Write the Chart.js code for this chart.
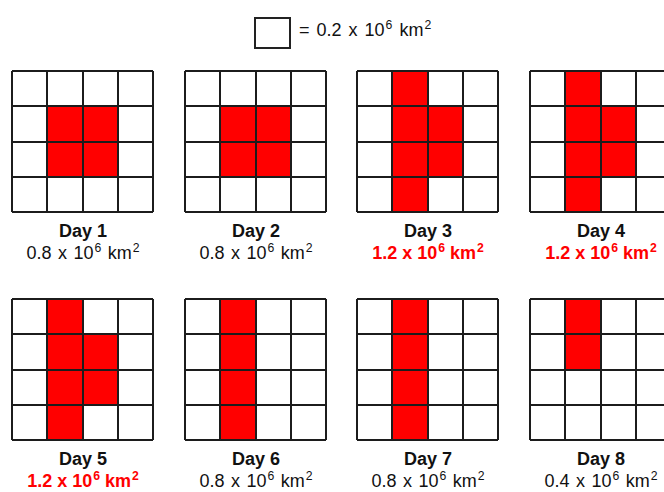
<!DOCTYPE html>
<html>
<head>
<meta charset="utf-8">
<script src="https://cdn.jsdelivr.net/npm/chart.js@4.4.1/dist/chart.umd.min.js"></script>
<style>
  body { margin: 0; background: #fff; font-family: "Liberation Sans", Arial, sans-serif; }
  #wrap { position: relative; width: 664px; height: 492px; overflow: hidden; background: #fff; }
  canvas { position: absolute; }
  .lbl { position: absolute; width: 180px; text-align: center; color: #111; white-space: nowrap; }
  .day { font-weight: bold; font-size: 18px; }
  .val { font-size: 18px; word-spacing: 1.5px; }
  .val.hi { color: #f00; font-weight: bold; word-spacing: 0; }
  sup { font-size: 68%; vertical-align: 0; position: relative; top: -0.55em; margin-left: 1px; }
  #key { position: absolute; left: 254px; top: 17px; width: 33px; height: 28px; border: 2px solid #222; }
  #keyText { position: absolute; left: 299px; top: 20px; font-size: 18px; color: #111; word-spacing: 2px; }
</style>
</head>
<body>
<div id="wrap">
  <div id="key"></div>
  <div id="keyText">= 0.2 x 10<sup>6</sup> km<sup>2</sup></div>
</div>
<script>
// one cell = 0.2 x 10^6 km2
const days = ["Day 1", "Day 2", "Day 3", "Day 4", "Day 5", "Day 6", "Day 7", "Day 8"];
const areas = [0.8, 0.8, 1.2, 1.2, 1.2, 0.8, 0.8, 0.4];
const gridCols = ["c1", "c2", "c3", "c4"];
// red rows per column, counted from the top of the 4x4 grid [from, to]
const filled = [
  [null, [1, 3], [1, 3], null],
  [null, [1, 3], [1, 3], null],
  [null, [0, 4], [1, 3], null],
  [null, [0, 4], [1, 3], null],
  [null, [0, 4], [1, 3], null],
  [null, [0, 4], null, null],
  [null, [0, 4], null, null],
  [null, [0, 2], null, null]
];

const wrap = document.getElementById("wrap");
const lefts = [12, 185, 357, 530];
const tops = [71, 299];
const maxArea = Math.max(...areas);

days.forEach((day, i) => {
  const x = lefts[i % 4];
  const y = tops[Math.floor(i / 4)];

  const cv = document.createElement("canvas");
  cv.width = 145;
  cv.height = 145;
  cv.style.left = (x - 2) + "px";
  cv.style.top = (y - 2) + "px";
  cv.style.width = "145px";
  cv.style.height = "145px";
  wrap.appendChild(cv);

  new Chart(cv, {
    type: "bar",
    data: {
      labels: gridCols,
      datasets: [{
        data: filled[i],
        backgroundColor: "#ff0000",
        borderWidth: 0,
        barPercentage: 1,
        categoryPercentage: 1
      }]
    },
    options: {
      responsive: false,
      animation: false,
      events: [],
      layout: { padding: 2 },
      plugins: { legend: { display: false }, tooltip: { enabled: false } },
      scales: {
        x: {
          ticks: { display: false },
          grid: { offset: true, color: "#1c1c1c", lineWidth: 2, drawTicks: false, z: 1 },
          border: { display: false }
        },
        y: {
          reverse: true,
          min: 0,
          max: 4,
          ticks: { display: false, stepSize: 1 },
          grid: { color: "#1c1c1c", lineWidth: 2, drawTicks: false, z: 1 },
          border: { display: false }
        }
      }
    }
  });

  const d = document.createElement("div");
  d.className = "lbl day";
  d.style.left = (x + 71 - 90) + "px";
  d.style.top = (y + 150) + "px";
  d.textContent = day;
  wrap.appendChild(d);

  const v = document.createElement("div");
  v.className = "lbl val" + (areas[i] === maxArea ? " hi" : "");
  v.style.left = (x + 71 - 90) + "px";
  v.style.top = (y + 172) + "px";
  v.innerHTML = areas[i].toFixed(1) + " x 10<sup>6</sup> km<sup>2</sup>";
  wrap.appendChild(v);
});
</script>
</body>
</html>
